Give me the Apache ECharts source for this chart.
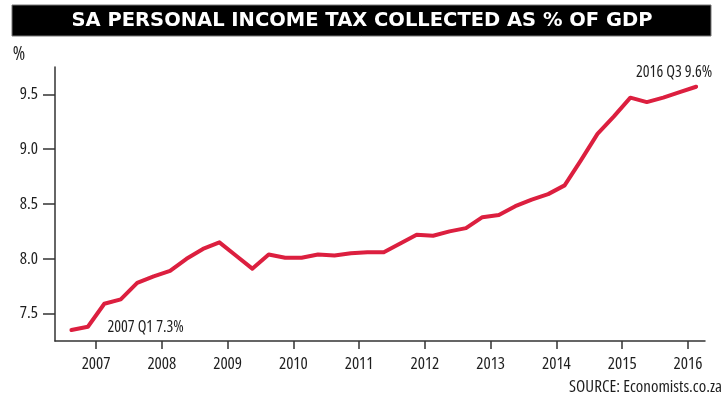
<!DOCTYPE html>
<html>
<head>
<meta charset="utf-8">
<script src="https://cdn.jsdelivr.net/npm/echarts@6/dist/echarts.min.js"></script>
<style>html,body{margin:0;padding:0;background:#fff}#c{width:724px;height:402px}</style>
</head>
<body>
<div id="c"></div>
<script>
var periods = ['2007 Q1','2007 Q2','2007 Q3','2007 Q4','2008 Q1','2008 Q2','2008 Q3','2008 Q4',
  '2009 Q1','2009 Q2','2009 Q3','2009 Q4','2010 Q1','2010 Q2','2010 Q3','2010 Q4',
  '2011 Q1','2011 Q2','2011 Q3','2011 Q4','2012 Q1','2012 Q2','2012 Q3','2012 Q4',
  '2013 Q1','2013 Q2','2013 Q3','2013 Q4','2014 Q1','2014 Q2','2014 Q3','2014 Q4',
  '2015 Q1','2015 Q2','2015 Q3','2015 Q4','2016 Q1','2016 Q2','2016 Q3'];
var taxPctGdp = [7.35,7.38,7.59,7.63,7.78,7.84,7.89,8.00,
  8.09,8.15,8.03,7.91,8.04,8.01,8.01,8.04,
  8.03,8.05,8.06,8.06,8.14,8.22,8.21,8.25,
  8.28,8.38,8.40,8.48,8.54,8.59,8.67,8.90,
  9.14,9.30,9.47,9.43,9.47,9.52,9.57];
var yearLabels = [2007,2008,2009,2010,2011,2012,2013,2014,2015,2016];
var yTicks = [7.5,8.0,8.5,9.0,9.5];
var firstNote = '2007 Q1 7.3%';
var lastNote = '2016 Q3 9.6%';
var titleText = 'SA PERSONAL INCOME TAX COLLECTED AS % OF GDP';
var sourceText = 'SOURCE: Economists.co.za';

function periodToX(p){ var a = p.split(' Q'); return +a[0] + (+a[1] - 0.5) / 4; }
var xTicks = yearLabels.map(function(y){ return y + 0.5; });

var narrow = "'Open Sans','Roboto Condensed',sans-serif";
var stretch = 'condensed';
var ink = '#1e1e1e';
var red = '#dc1f3f';

var seriesData = periods.map(function(p, i){
  var item = { value: [periodToX(p), taxPctGdp[i]] };
  if (i === 0) {
    item.label = { show: true, position: 'right', distance: 35, offset: [0, -3], formatter: firstNote };
  } else if (i === periods.length - 1) {
    item.label = { show: true, position: 'top', distance: 5, offset: [-22, 0], formatter: lastNote };
  }
  return item;
});

var chart = echarts.init(document.getElementById('c'), null, { renderer: 'canvas' });
chart.setOption({
  animation: false,
  backgroundColor: '#ffffff',
  graphic: [{
    type: 'rect', z: 0,
    shape: { x: 12, y: 5, width: 699, height: 31 },
    style: { fill: '#000000', stroke: '#777777', lineWidth: 1 }
  }],
  title: [{
    text: titleText, left: 'center', top: 11, padding: 0, z: 10,
    textStyle: { color: '#ffffff', fontFamily: "'DejaVu Sans',sans-serif", fontWeight: 'bold', fontSize: 19.5, lineHeight: 20 }
  }, {
    text: sourceText, right: 2, top: 378, padding: 0,
    textStyle: { color: ink, fontFamily: narrow, fontStyle: stretch, fontWeight: 'normal', fontSize: 17, lineHeight: 18 }
  }],
  grid: { left: 55, right: 19, top: 67, bottom: 61, containLabel: false },
  xAxis: {
    type: 'value', min: 2006.875, max: 2016.76,
    axisLine: { show: true, lineStyle: { color: '#333333', width: 1.5 } },
    axisTick: { show: true, length: 8, customValues: xTicks, lineStyle: { color: '#333333', width: 1.5 } },
    axisLabel: { customValues: xTicks, margin: 15, color: ink, fontFamily: narrow, fontStyle: stretch, fontSize: 17,
      formatter: function(v){ return String(Math.floor(v)); } },
    splitLine: { show: false }
  },
  yAxis: {
    type: 'value', min: 7.25, max: 9.75,
    name: '%', nameLocation: 'end', nameGap: 3,
    nameTextStyle: { color: ink, fontFamily: narrow, fontStyle: stretch, fontSize: 19, align: 'center', padding: [0, 72, 0, 0] },
    axisLine: { show: true, lineStyle: { color: '#333333', width: 1.5 } },
    axisTick: { show: true, length: 12, customValues: yTicks, lineStyle: { color: '#333333', width: 1.5 } },
    axisLabel: { customValues: yTicks, margin: 17, color: ink, fontFamily: narrow, fontStyle: stretch, fontSize: 17,
      formatter: function(v){ return v.toFixed(1); } },
    splitLine: { show: false }
  },
  series: [{
    type: 'line', data: seriesData, symbol: 'circle', symbolSize: 2, showSymbol: true, z: 5,
    itemStyle: { color: red },
    lineStyle: { color: red, width: 4, cap: 'round', join: 'round' },
    label: { color: ink, fontFamily: narrow, fontStyle: stretch, fontSize: 16 },
    emphasis: { disabled: true }
  }]
});
</script>
</body>
</html>
